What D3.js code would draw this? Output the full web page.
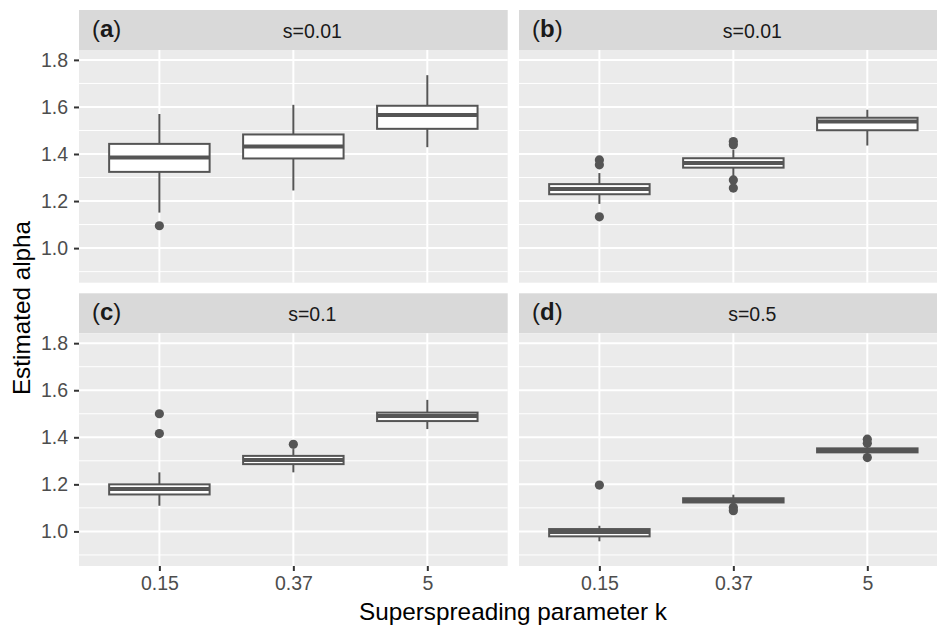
<!DOCTYPE html>
<html>
<head>
<meta charset="utf-8">
<script src="https://cdn.jsdelivr.net/npm/d3@7"></script>
<style>
  body { margin: 0; background: #fff; }
  svg { display: block; font-family: "Liberation Sans", Arial, sans-serif; }
</style>
</head>
<body>
<svg width="937" height="625"></svg>
<script>
// facets, in order (a) (b) (c) (d)
var panelTags = ["a", "b", "c", "d"];
var stripLabels = ["s=0.01", "s=0.01", "s=0.1", "s=0.5"];
var categories = ["0.15", "0.37", "5"];
var yTicks = [1.0, 1.2, 1.4, 1.6, 1.8];
var yMinor = [0.9, 1.1, 1.3, 1.5, 1.7];

// box stats per facet, one value per category
var whiskerLow = [[1.151, 1.245, 1.429], [1.188, 1.304, 1.436], [1.109, 1.251, 1.435], [0.958, 1.112, 1.330]];
var q1 = [[1.324, 1.381, 1.507], [1.229, 1.342, 1.501], [1.157, 1.286, 1.469], [0.979, 1.123, 1.336]];
var median = [[1.385, 1.432, 1.566], [1.251, 1.362, 1.538], [1.180, 1.304, 1.490], [0.998, 1.133, 1.345]];
var q3 = [[1.443, 1.483, 1.605], [1.272, 1.382, 1.554], [1.200, 1.321, 1.505], [1.010, 1.141, 1.353]];
var whiskerHigh = [[1.570, 1.609, 1.735], [1.319, 1.418, 1.588], [1.251, 1.350, 1.559], [1.024, 1.156, 1.360]];
var outliers = [
    [[1.095], [], []],
    [[1.375, 1.354, 1.133], [1.453, 1.439, 1.290, 1.255], []],
    [[1.500, 1.416], [1.370], []],
    [[1.197], [1.102, 1.088], [1.392, 1.375, 1.314]]
];

var svg = d3.select("svg");
var boxColor = "#555555";

var cols = [79, 519], panelW = 428.7;
var rows = [10, 293.3], stripH = 40, plotH = 232.7;

var y = d3.scaleLinear().domain([0.853, 1.842]);

panelTags.forEach(function (tag, p) {
    var left = cols[p % 2], top = rows[Math.floor(p / 2)];
    var pTop = top + stripH, pBottom = pTop + plotH;
    var g = svg.append("g");

    var x = d3.scalePoint().domain(categories).range([left, left + panelW]).padding(0.6);
    var step = x.step();
    y.range([pBottom, pTop]);

    // strip
    g.append("rect").attr("x", left).attr("y", top).attr("width", panelW).attr("height", stripH).attr("fill", "#D9D9D9");
    var tagText = g.append("text").attr("x", left + 13).attr("y", top + 27).attr("font-size", 24).attr("fill", "#1A1A1A");
    tagText.append("tspan").text("(");
    tagText.append("tspan").attr("font-weight", "bold").text(tag);
    tagText.append("tspan").text(")");
    g.append("text").attr("x", left + panelW / 2 + 19).attr("y", top + 27.5).attr("text-anchor", "middle")
        .attr("font-size", 19.5).attr("fill", "#1A1A1A").text(stripLabels[p]);

    // panel background and grid
    g.append("rect").attr("x", left).attr("y", pTop).attr("width", panelW).attr("height", plotH).attr("fill", "#EBEBEB");
    g.selectAll(".minor").data(yMinor).enter().append("line")
        .attr("x1", left).attr("x2", left + panelW)
        .attr("y1", function (d) { return y(d); }).attr("y2", function (d) { return y(d); })
        .attr("stroke", "#fff").attr("stroke-width", 1);
    g.selectAll(".major").data(yTicks).enter().append("line")
        .attr("x1", left).attr("x2", left + panelW)
        .attr("y1", function (d) { return y(d); }).attr("y2", function (d) { return y(d); })
        .attr("stroke", "#fff").attr("stroke-width", 2);
    g.selectAll(".vgrid").data(categories).enter().append("line")
        .attr("x1", function (d) { return x(d); }).attr("x2", function (d) { return x(d); })
        .attr("y1", pTop).attr("y2", pBottom)
        .attr("stroke", "#fff").attr("stroke-width", 2);

    // boxes
    var bw = step * 0.75;
    categories.forEach(function (c, i) {
        var cx = x(c);
        g.append("line").attr("x1", cx).attr("x2", cx)
            .attr("y1", y(whiskerHigh[p][i])).attr("y2", y(q3[p][i]))
            .attr("stroke", boxColor).attr("stroke-width", 2);
        g.append("line").attr("x1", cx).attr("x2", cx)
            .attr("y1", y(q1[p][i])).attr("y2", y(whiskerLow[p][i]))
            .attr("stroke", boxColor).attr("stroke-width", 2);
        g.append("rect").attr("x", cx - bw / 2).attr("width", bw)
            .attr("y", y(q3[p][i])).attr("height", y(q1[p][i]) - y(q3[p][i]))
            .attr("fill", "#fff").attr("stroke", boxColor).attr("stroke-width", 2);
        g.append("line").attr("x1", cx - bw / 2).attr("x2", cx + bw / 2)
            .attr("y1", y(median[p][i])).attr("y2", y(median[p][i]))
            .attr("stroke", boxColor).attr("stroke-width", 4);
        g.selectAll(null).data(outliers[p][i]).enter().append("circle")
            .attr("cx", cx).attr("cy", function (d) { return y(d); }).attr("r", 4.6)
            .attr("fill", boxColor);
    });

    // y axis on left column
    if (p % 2 === 0) {
        var ya = svg.append("g").attr("transform", "translate(" + left + ",0)")
            .call(d3.axisLeft(y).tickValues(yTicks).tickFormat(d3.format(".1f")).tickSize(5).tickPadding(6));
        ya.select(".domain").remove();
        ya.selectAll("line").attr("stroke", "#333").attr("stroke-width", 2);
        ya.selectAll("text").attr("font-size", 19.5).attr("fill", "#4D4D4D").attr("font-family", "Liberation Sans, Arial, sans-serif");
    }
    // x axis on bottom row
    if (p >= 2) {
        var xa = svg.append("g").attr("transform", "translate(0," + pBottom + ")")
            .call(d3.axisBottom(x).tickSize(5).tickPadding(5));
        xa.select(".domain").remove();
        xa.selectAll("line").attr("stroke", "#333").attr("stroke-width", 2);
        xa.selectAll("text").attr("font-size", 19.5).attr("fill", "#4D4D4D").attr("font-family", "Liberation Sans, Arial, sans-serif");
    }
});

// axis titles
svg.append("text").attr("x", 513).attr("y", 620).attr("text-anchor", "middle")
    .attr("font-size", 24.3).attr("fill", "#000").text("Superspreading parameter k");
svg.append("text").attr("transform", "translate(30,308) rotate(-90)").attr("text-anchor", "middle")
    .attr("font-size", 24.3).attr("fill", "#000").text("Estimated alpha");
</script>
</body>
</html>
